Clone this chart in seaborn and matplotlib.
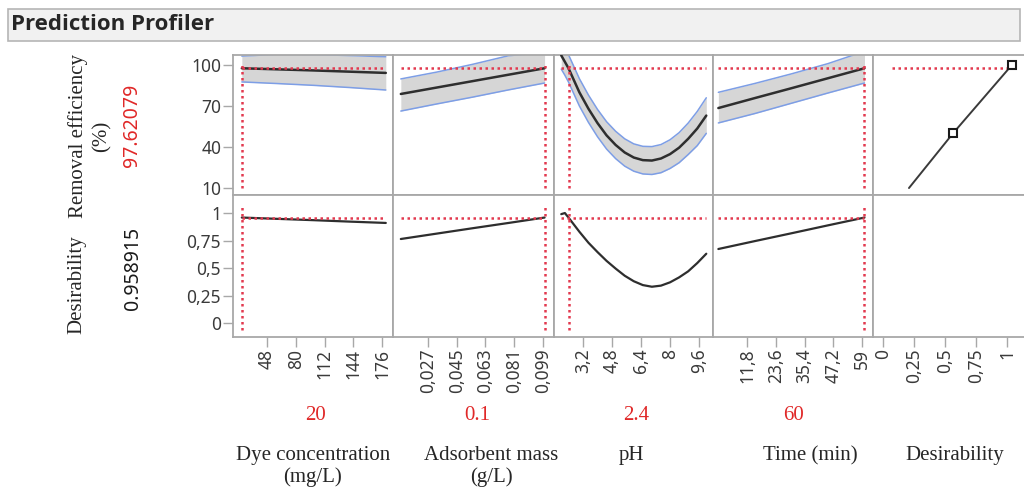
import matplotlib
matplotlib.use("Agg")
import matplotlib.pyplot as plt
import seaborn as sns
from matplotlib.patches import Rectangle

sns.set_style("white")
plt.rcParams['font.family'] = ['Noto Sans', 'DejaVu Sans']

# Dye concentration (mg/L)
dye = [20, 60, 100, 140, 180]
dye_mean = [97.6, 96.8, 96.0, 95.1, 94.2]
dye_upper = [106.5, 107.8, 107.6, 106.9, 106.0]
dye_lower = [87.6, 86.4, 85.1, 83.5, 81.7]
dye_desir = [0.959, 0.947, 0.935, 0.922, 0.910]

# Adsorbent mass (g/L)
mass = [0.01, 0.0325, 0.055, 0.0775, 0.1]
mass_mean = [78.8, 83.5, 88.2, 92.9, 97.6]
mass_upper = [89.8, 94.8, 100.5, 106.8, 109.0]
mass_lower = [66.3, 71.5, 76.5, 81.8, 86.8]
mass_desir = [0.764, 0.813, 0.862, 0.910, 0.959]

# pH
ph = [2.0, 2.2, 2.4, 3.0, 3.5, 4.0, 4.5, 5.0, 5.5, 6.0, 6.5, 7.0, 7.5, 8.0, 8.5, 9.0, 9.5, 10.0]
ph_mean = [107.0, 102.3, 97.6, 80.0, 68.0, 57.5, 48.5, 41.5, 36.0, 32.3, 30.4, 30.1, 31.6, 34.8, 39.5, 46.0, 53.5, 63.0]
ph_upper = [117.0, 112.0, 107.5, 90.0, 78.0, 67.5, 58.5, 51.5, 46.0, 42.3, 40.5, 40.3, 41.8, 45.3, 50.5, 57.5, 66.0, 76.0]
ph_lower = [97.0, 92.5, 87.5, 70.0, 58.0, 47.5, 38.5, 31.5, 26.0, 22.3, 20.3, 19.9, 21.2, 24.3, 28.5, 34.5, 41.0, 50.0]
ph_desir = [0.99, 1.0, 0.959, 0.83, 0.73, 0.645, 0.565, 0.495, 0.43, 0.38, 0.345, 0.33, 0.34, 0.37, 0.415, 0.47, 0.545, 0.63]

# Time (min)
time = [0, 15, 30, 45, 60]
time_mean = [68.5, 75.8, 83.0, 90.3, 97.6]
time_upper = [80.0, 86.5, 93.5, 101.0, 110.0]
time_lower = [57.6, 64.5, 72.0, 79.5, 86.8]
time_desir = [0.673, 0.745, 0.816, 0.888, 0.959]

# desirability function of the response
desir_x = [0.21, 0.565, 1.04]
desir_resp = [10, 50, 100]

current = [20, 0.1, 2.4, 60]
current_labels = ["20", "0.1", "2.4", "60"]
pred_value = 97.62079
desir_value = 0.958915

factor_names = ["Dye concentration\n(mg/L)", "Adsorbent mass\n(g/L)", "pH", "Time (min)", "Desirability"]
xticks = [[48, 80, 112, 144, 176],
          [0.027, 0.045, 0.063, 0.081, 0.099],
          [3.2, 4.8, 6.4, 8, 9.6],
          [11.8, 23.6, 35.4, 47.2, 59],
          [0, 0.25, 0.5, 0.75, 1]]
xticklabels = [["48", "80", "112", "144", "176"],
               ["0,027", "0,045", "0,063", "0,081", "0,099"],
               ["3,2", "4,8", "6,4", "8", "9,6"],
               ["11,8", "23,6", "35,4", "47,2", "59"],
               ["0", "0,25", "0,5", "0,75", "1"]]
resp_ticks = [10, 40, 70, 100]
resp_ticklabels = ["10", "40", "70", "100"]
des_ticks = [0, 0.25, 0.5, 0.75, 1]
des_ticklabels = ["0", "0,25", "0,5", "0,75", "1"]

xs = [dye, mass, ph, time]
means = [dye_mean, mass_mean, ph_mean, time_mean]
uppers = [dye_upper, mass_upper, ph_upper, time_upper]
lowers = [dye_lower, mass_lower, ph_lower, time_lower]
desirs = [dye_desir, mass_desir, ph_desir, time_desir]
xlims = [(10.2, 188), (0.0051, 0.1059), (1.6, 10.37), (-2.2, 63.5), (-0.08, 1.21)]

# ---- layout (pixels of a 1024x491 picture) ----
W, H = 1024, 491
fig = plt.figure(figsize=(10.24, 4.91), dpi=100)

def fx(x):
    return x / W

def fy(y):
    return 1 - y / H

col_edges = [233, 393, 554, 713, 873, 1033]
rows = [(55, 195), (195, 337)]

grey = "#a8a8a8"
red_line = "#e2394f"
red_text = "#e02828"
band_edge = "#7d9ee6"
tick_col = "#3a3a3a"
dot = (0, (1, 1.4))

# title bar
fig.patches.append(Rectangle((fx(8), fy(41)), fx(1012), (41 - 9) / H, transform=fig.transFigure,
                             facecolor="#f1f1f1", edgecolor="#b5b5b5", lw=1.2))
fig.text(fx(11), fy(25), "Prediction Profiler", fontsize=16, fontweight="bold",
         family=["Open Sans", "Lato", "DejaVu Sans"], va="center", ha="left")

axes = [[None] * 5 for _ in range(2)]
for r, (top, bot) in enumerate(rows):
    for c in range(5):
        left, right = col_edges[c], col_edges[c + 1]
        ax = fig.add_axes([fx(left), fy(bot), (right - left) / W, (bot - top) / H])
        axes[r][c] = ax
        for s in ax.spines.values():
            s.set_color(grey)
            s.set_linewidth(1.3)
        ax.set_xlim(*xlims[c])
        if r == 0:
            ax.set_ylim(4.9, 107.3)
        else:
            ax.set_ylim(-0.127, 1.164)
        ax.tick_params(axis="both", which="both", bottom=False, left=False,
                       labelbottom=False, labelleft=False,
                       length=7, width=1, color=grey, labelcolor=tick_col,
                       labelsize=12.5, pad=1.5, direction="out")
        if r == 1:
            ax.set_xticks(xticks[c])
            ax.set_xticklabels(xticklabels[c], rotation=90)
            ax.tick_params(axis="x", bottom=True, labelbottom=True)
        if c == 0:
            if r == 0:
                ax.set_yticks(resp_ticks)
                ax.set_yticklabels(resp_ticklabels)
            else:
                ax.set_yticks(des_ticks)
                ax.set_yticklabels(des_ticklabels)
            ax.tick_params(axis="y", left=True, labelleft=True)
        if r == 0 and c < 4:
            ax.set_xticks(xticks[c])

# factor panels
for c in range(4):
    ax = axes[0][c]
    ax.fill_between(xs[c], lowers[c], uppers[c], color="#d6d6d6", lw=0, zorder=1)
    sns.lineplot(x=xs[c], y=uppers[c], ax=ax, color=band_edge, lw=1.1, zorder=2)
    sns.lineplot(x=xs[c], y=lowers[c], ax=ax, color=band_edge, lw=1.1, zorder=2)
    sns.lineplot(x=xs[c], y=means[c], ax=ax, color="#2e2e2e", lw=1.8, zorder=3)
    ax.hlines(pred_value, xs[c][0], xs[c][-1], color=red_line, lw=1.8, linestyles=dot, zorder=4)
    ax.axvline(current[c], ymin=0.05, ymax=0.93, color=red_line, lw=1.8, ls=dot, zorder=4)

    ax = axes[1][c]
    sns.lineplot(x=xs[c], y=desirs[c], ax=ax, color="#2e2e2e", lw=1.6, zorder=3)
    ax.hlines(desir_value, xs[c][0], xs[c][-1], color=red_line, lw=1.8, linestyles=dot, zorder=4)
    ax.axvline(current[c], ymin=0.05, ymax=0.93, color=red_line, lw=1.8, ls=dot, zorder=4)

# desirability panel
ax = axes[0][4]
ax.hlines(pred_value, 0.07, desir_x[-1], color=red_line, lw=1.8, linestyles=dot, zorder=2)
sns.lineplot(x=desir_x, y=desir_resp, ax=ax, color="#3a3a3a", lw=1.4, zorder=3)
ax.plot(desir_x[1:], desir_resp[1:], ls="none", marker="s", ms=6, mfc="white",
        mec="#1a1a1a", mew=1.5, zorder=4)

# texts
serif = ["Liberation Serif", "DejaVu Serif"]
value_x = [315, 477, 636, 793]
for c in range(4):
    fig.text(fx(value_x[c]), fy(415), current_labels[c], color=red_text, fontsize=15,
             family=serif, ha="center", va="center")
name_x = [313, 491, 631, 810, 955]
for c in range(5):
    fig.text(fx(name_x[c]), fy(446), factor_names[c], fontsize=15, family=serif,
             ha="center", va="top", linespacing=1.15, multialignment="center")

fig.text(fx(90), fy(136), "Removal efficiency\n(%)", fontsize=15, family=serif, rotation=90,
         ha="center", va="center", linespacing=1.3, multialignment="center")
fig.text(fx(132), fy(125), f"{pred_value:.5f}", fontsize=14, color=red_text, rotation=90,
         ha="center", va="center")
fig.text(fx(77), fy(285), "Desirability", fontsize=15, family=serif, rotation=90,
         ha="center", va="center")
fig.text(fx(133), fy(268), f"{desir_value:.6f}", fontsize=14, color="#1a1a1a", rotation=90,
         ha="center", va="center")

fig.savefig("out.png", dpi=100)
